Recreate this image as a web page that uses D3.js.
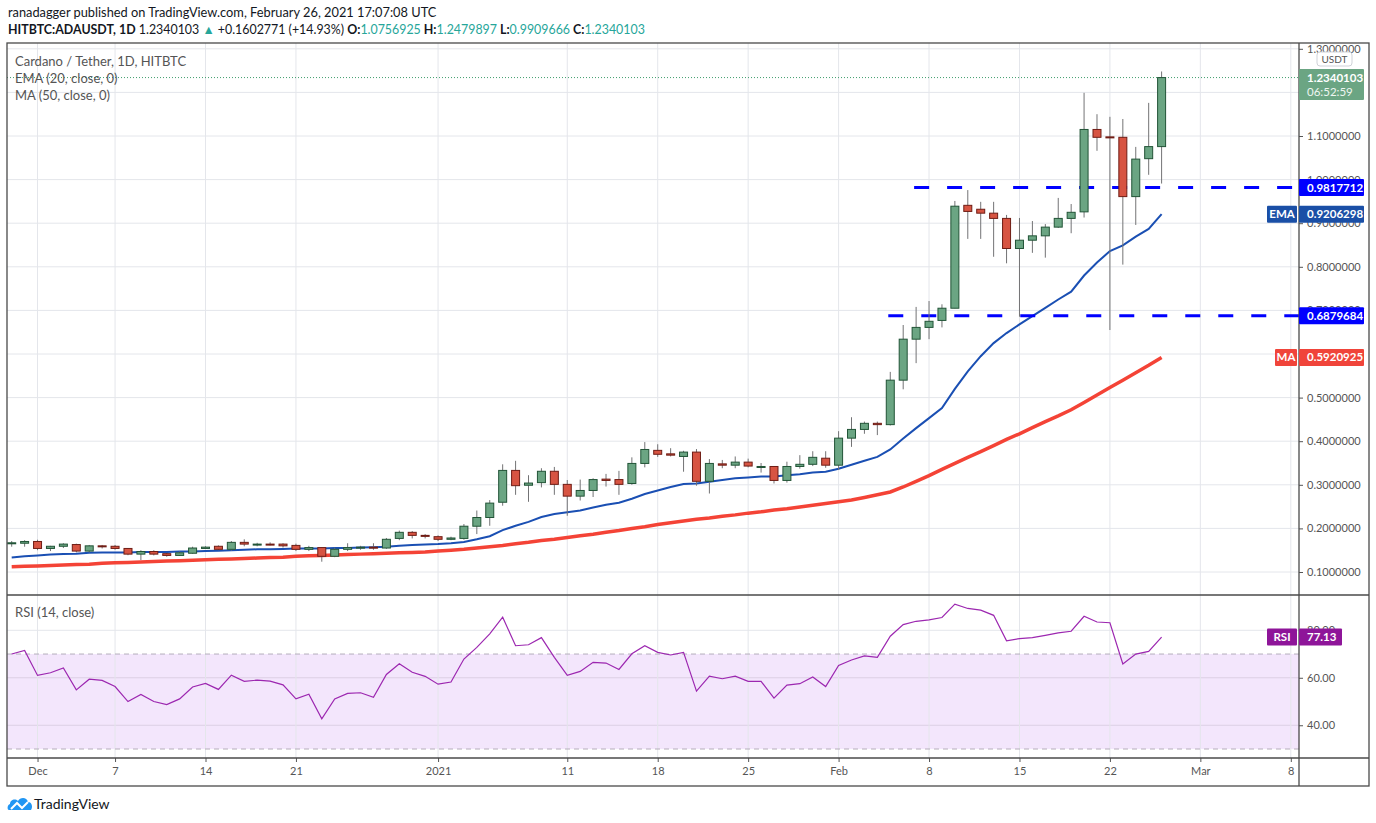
<!DOCTYPE html>
<html>
<head>
<meta charset="utf-8">
<script src="https://cdn.jsdelivr.net/npm/d3@7"></script>
<style>
body { margin: 0; background: #fff; }
svg text { font-family: Lato, "Open Sans", sans-serif; }
</style>
</head>
<body>
<svg id="chart" width="1376" height="823"></svg>
<script>
// daily candles, Nov 29 2020 .. Feb 26 2021
const firstDay = new Date(Date.UTC(2020, 10, 29));
const opens = [0.166,0.166,0.170,0.154,0.159,0.163,0.148,0.160,0.159,0.154,0.141,0.147,0.142,0.138,0.143,0.154,0.159,0.152,0.168,0.162,0.164,0.164,0.161,0.152,0.156,0.136,0.152,0.155,0.157,0.155,
  0.177,0.191,0.184,0.181,0.175,0.177,0.205,0.225,0.260,0.333,0.299,0.305,0.331,0.301,0.274,0.287,0.313,0.312,0.303,0.349,0.379,0.371,0.365,0.375,0.308,0.348,0.345,0.352,0.340,0.342,
  0.310,0.342,0.347,0.361,0.345,0.407,0.427,0.441,0.438,0.540,0.634,0.661,0.677,0.705,0.941,0.932,0.923,0.911,0.842,0.861,0.871,0.891,0.911,0.926,1.115,1.098,1.097,0.961,1.048,1.0756925];
const highs = [0.171,0.173,0.174,0.160,0.166,0.165,0.162,0.162,0.162,0.155,0.150,0.150,0.144,0.147,0.158,0.159,0.161,0.171,0.175,0.167,0.168,0.166,0.165,0.160,0.157,0.156,0.166,0.160,0.166,0.178,
  0.195,0.194,0.187,0.184,0.181,0.210,0.241,0.265,0.347,0.355,0.322,0.338,0.341,0.311,0.312,0.315,0.325,0.332,0.363,0.398,0.393,0.384,0.378,0.382,0.359,0.357,0.365,0.360,0.350,0.343,
  0.353,0.368,0.377,0.377,0.423,0.455,0.445,0.445,0.559,0.6665,0.708,0.7215,0.714,0.951,0.976,0.949,0.949,0.919,0.912,0.905,0.898,0.958,0.944,1.199,1.150,1.144,1.139,1.075,1.176,1.2479897];
const lows = [0.158,0.158,0.150,0.148,0.155,0.145,0.145,0.154,0.151,0.1385,0.1275,0.138,0.135,0.137,0.142,0.153,0.150,0.149,0.159,0.159,0.161,0.156,0.148,0.148,0.1236,0.134,0.148,0.151,0.151,0.153,
  0.173,0.177,0.177,0.171,0.173,0.174,0.187,0.206,0.252,0.277,0.261,0.294,0.277,0.229,0.264,0.272,0.296,0.277,0.300,0.340,0.364,0.365,0.330,0.298,0.280,0.338,0.338,0.340,0.328,0.303,
  0.305,0.337,0.343,0.339,0.334,0.387,0.417,0.414,0.436,0.519,0.579,0.634,0.661,0.705,0.864,0.864,0.823,0.808,0.6855,0.832,0.821,0.889,0.877,0.913,1.066,0.655,0.805,0.896,1.011,0.9909666];
const closes = [0.167,0.170,0.154,0.159,0.164,0.148,0.160,0.159,0.154,0.141,0.147,0.141,0.138,0.144,0.155,0.157,0.152,0.168,0.164,0.164,0.163,0.160,0.152,0.156,0.136,0.152,0.156,0.157,0.155,0.175,
  0.191,0.184,0.182,0.175,0.178,0.205,0.225,0.258,0.333,0.298,0.304,0.331,0.301,0.274,0.287,0.312,0.310,0.301,0.349,0.381,0.370,0.368,0.375,0.308,0.349,0.345,0.352,0.343,0.342,0.310,
  0.342,0.347,0.363,0.345,0.407,0.427,0.441,0.438,0.540,0.634,0.661,0.675,0.705,0.939,0.927,0.923,0.911,0.842,0.861,0.871,0.891,0.911,0.925,1.115,1.097,1.096,0.961,1.047,1.0756925,1.2340103];
const ema20 = [0.133,0.136,0.138,0.140,0.141,0.142,0.144,0.145,0.145,0.145,0.146,0.146,0.146,0.147,0.147,0.148,0.149,0.150,0.151,0.152,0.152,0.153,0.154,0.154,0.154,0.155,0.155,0.156,0.157,0.158,
  0.160,0.162,0.163,0.164,0.166,0.169,0.175,0.182,0.196,0.206,0.215,0.226,0.233,0.237,0.241,0.248,0.254,0.259,0.268,0.279,0.287,0.295,0.302,0.303,0.307,0.311,0.315,0.317,0.319,0.319,
  0.322,0.324,0.328,0.330,0.337,0.346,0.355,0.364,0.381,0.406,0.430,0.453,0.476,0.520,0.560,0.595,0.625,0.648,0.668,0.687,0.706,0.725,0.743,0.780,0.810,0.836,0.849,0.869,0.887,0.9206298];
const ma50 = [0.112,0.113,0.114,0.115,0.116,0.117,0.118,0.120,0.121,0.122,0.123,0.124,0.125,0.126,0.127,0.128,0.129,0.130,0.131,0.132,0.133,0.134,0.136,0.137,0.138,0.139,0.140,0.141,0.142,0.143,
  0.144,0.145,0.146,0.148,0.150,0.152,0.155,0.158,0.161,0.165,0.168,0.172,0.175,0.179,0.183,0.1865,0.191,0.195,0.200,0.204,0.209,0.213,0.217,0.221,0.224,0.228,0.231,0.235,0.238,0.242,
  0.245,0.249,0.253,0.257,0.261,0.265,0.271,0.277,0.2835,0.295,0.308,0.321,0.3355,0.349,0.363,0.376,0.390,0.404,0.417,0.431,0.445,0.458,0.472,0.489,0.506,0.523,0.540,0.557,0.574,0.5920925];
const rsi14 = [70.0,71.5,61.0,62.1,64.1,54.9,59.4,58.9,56.3,50.0,53.0,50.0,48.7,51.1,56.1,57.6,55.1,61.1,58.5,59.0,58.6,57.0,51.1,53.1,42.7,51.1,53.4,53.7,51.8,61.4,
  65.9,62.3,60.6,57.3,58.2,67.9,72.8,78.5,85.5,73.5,73.9,76.9,68.6,61.0,62.7,66.5,66.2,63.5,70.1,73.5,70.7,69.6,70.7,54.4,60.7,59.6,60.7,58.5,58.5,51.4,
  56.9,57.5,60.3,56.3,65.2,67.5,69.2,68.6,77.5,82.4,83.8,84.4,85.4,91.0,89.2,88.5,86.3,75.6,76.5,76.9,77.9,78.9,79.6,85.9,83.5,83.2,65.8,70.0,71.1,77.13];

const priceTicks = [0.1,0.2,0.3,0.4,0.5,0.6,0.7,0.8,0.9,1.0,1.1,1.2,1.3];
const rsiTicks = [40, 60, 80];
const timeTicks = ["2020-12-01","2020-12-07","2020-12-14","2020-12-21","2021-01-01","2021-01-11","2021-01-18","2021-01-25","2021-02-01","2021-02-08","2021-02-15","2021-02-22","2021-03-01","2021-03-08"];
const timeLabels = ["Dec","7","14","21","2021","11","18","25","Feb","8","15","22","Mar","8"];
const supportLevels = [0.9817712, 0.6879684];
const levelStarts = ["2021-02-07", "2021-02-05"];

const candles = closes.map((c, i) => ({
  date: d3.utcDay.offset(firstDay, i), o: opens[i], h: highs[i], l: lows[i], c: c,
  ema: ema20[i], ma: ma50[i], rsi: rsi14[i]
}));
const tickDates = timeTicks.map(s => new Date(s + "T00:00:00Z"));

const paneL = 7, paneR = 1299, axisR = 1369, paneTop = 43, mainBot = 595, rsiBot = 758, timeBot = 786;

const svg = d3.select("#chart");

const x = d3.scaleUtc()
  .domain([firstDay, new Date(Date.UTC(2021, 2, 8))])
  .range([11.7, 1290.8]);
const y = d3.scaleLinear().domain([0.1, 1.3]).range([572, 48.8]);
const yR = d3.scaleLinear().domain([30, 80]).range([749, 630.3]);

const defs = svg.append("defs");
defs.append("clipPath").attr("id", "clipMain").append("rect")
  .attr("x", paneL).attr("y", paneTop).attr("width", paneR - paneL).attr("height", mainBot - paneTop);
defs.append("clipPath").attr("id", "clipRsi").append("rect")
  .attr("x", paneL).attr("y", mainBot).attr("width", paneR - paneL).attr("height", rsiBot - mainBot);

// header
svg.append("text").attr("x", 8).attr("y", 17).attr("font-size", 12.8).attr("fill", "#131722")
  .text("ranadagger published on TradingView.com, February 26, 2021 17:07:08 UTC");
const hdr = svg.append("text").attr("x", 8).attr("y", 34).attr("font-size", 12.4).attr("fill", "#131722");
hdr.append("tspan").attr("font-weight", "bold").text("HITBTC:ADAUSDT, 1D");
hdr.append("tspan").text(" 1.2340103 ");
hdr.append("tspan").attr("fill", "#26a69a").text("▲");
hdr.append("tspan").text(" +0.1602771 (+14.93%) ");
[["O:", "1.0756925"], ["H:", "1.2479897"], ["L:", "0.9909666"], ["C:", "1.2340103"]].forEach(([k, v], i) => {
  hdr.append("tspan").attr("font-weight", "bold").text((i ? " " : "") + k);
  hdr.append("tspan").attr("fill", "#26a69a").text(v);
});

// rsi band
svg.append("rect").attr("x", paneL).attr("width", paneR - paneL)
  .attr("y", yR(70)).attr("height", yR(30) - yR(70)).attr("fill", "#f3e6fc");

// grid
svg.append("g").selectAll("line").data(priceTicks).join("line")
  .attr("x1", paneL).attr("x2", paneR).attr("y1", d => y(d)).attr("y2", d => y(d))
  .attr("stroke", "#e4e6eb");
svg.append("g").selectAll("line").data(rsiTicks).join("line")
  .attr("x1", paneL).attr("x2", paneR).attr("y1", d => yR(d)).attr("y2", d => yR(d))
  .attr("stroke", d => d === 80 ? "#e4e6eb" : "#dcd0e4");
svg.append("g").selectAll("line").data(tickDates).join("line")
  .attr("x1", d => x(d)).attr("x2", d => x(d)).attr("y1", paneTop).attr("y2", rsiBot)
  .attr("stroke", "#e4e6eb");
svg.append("g").selectAll("line").data([70, 30]).join("line")
  .attr("x1", paneL).attr("x2", paneR).attr("y1", d => yR(d)).attr("y2", d => yR(d))
  .attr("stroke", "#b5aebb").attr("stroke-dasharray", "5,4");

// main pane
const main = svg.append("g").attr("clip-path", "url(#clipMain)");

main.append("line").attr("x1", paneL).attr("x2", paneR)
  .attr("y1", y(closes[closes.length - 1])).attr("y2", y(closes[closes.length - 1]))
  .attr("stroke", "#3f9d6c").attr("stroke-dasharray", "1,2");

main.append("path").datum(candles)
  .attr("fill", "none").attr("stroke", "#f44336").attr("stroke-width", 3.5)
  .attr("d", d3.line().x(d => x(d.date)).y(d => y(d.ma)));
main.append("path").datum(candles)
  .attr("fill", "none").attr("stroke", "#1a4fb3").attr("stroke-width", 2)
  .attr("d", d3.line().x(d => x(d.date)).y(d => y(d.ema)));

// horizontal levels drawn by the analyst
main.selectAll(".lvl").data(supportLevels).join("line")
  .attr("x1", (d, i) => x(new Date(levelStarts[i] + "T00:00:00Z")) - 2)
  .attr("x2", paneR)
  .attr("y1", d => y(d)).attr("y2", d => y(d))
  .attr("stroke", "#0000ff").attr("stroke-width", 3).attr("stroke-dasharray", "15,18");

const cg = main.append("g").selectAll("g").data(candles).join("g");
cg.append("line")
  .attr("x1", d => x(d.date)).attr("x2", d => x(d.date))
  .attr("y1", d => y(d.h)).attr("y2", d => y(d.l))
  .attr("stroke", "#737375");
cg.append("rect")
  .attr("x", d => x(d.date) - 4).attr("width", 8)
  .attr("y", d => y(Math.max(d.o, d.c)))
  .attr("height", d => Math.max(1, Math.abs(y(d.o) - y(d.c))))
  .attr("fill", d => d.c >= d.o ? "#6ba583" : "#d75442")
  .attr("stroke", d => d.c >= d.o ? "#225437" : "#6f1d15");

// rsi pane
svg.append("g").attr("clip-path", "url(#clipRsi)").append("path").datum(candles)
  .attr("fill", "none").attr("stroke", "#9c27b0").attr("stroke-width", 1.2)
  .attr("d", d3.line().x(d => x(d.date)).y(d => yR(d.rsi)));

// legends
const leg = svg.append("g").attr("font-size", 13).attr("fill", "#555");
leg.append("text").attr("x", 15).attr("y", 66).text("Cardano / Tether, 1D, HITBTC");
leg.append("text").attr("x", 15).attr("y", 83).text("EMA (20, close, 0)");
leg.append("text").attr("x", 15).attr("y", 100).text("MA (50, close, 0)");
leg.append("text").attr("x", 15).attr("y", 617).text("RSI (14, close)");

// axes
const yAxis = svg.append("g").attr("transform", `translate(${paneR},0)`)
  .call(d3.axisRight(y).tickValues(priceTicks).tickFormat(d3.format(".7f")).tickSize(4).tickPadding(4));
const rAxis = svg.append("g").attr("transform", `translate(${paneR},0)`)
  .call(d3.axisRight(yR).tickValues(rsiTicks).tickFormat(d3.format(".2f")).tickSize(4).tickPadding(4));
const xAxis = svg.append("g").attr("transform", `translate(0,${rsiBot})`)
  .call(d3.axisBottom(x).tickValues(tickDates).tickFormat((d, i) => timeLabels[i]).tickSize(4).tickPadding(5));
[yAxis, rAxis, xAxis].forEach(a => {
  a.select(".domain").remove();
  a.selectAll("line").attr("stroke", "#555");
  a.selectAll("text").attr("fill", "#555").attr("font-size", 11).attr("font-family", "Lato, sans-serif");
});
// these two tick labels sit completely under the price / MA labels
yAxis.selectAll(".tick").filter(d => d === 1.2 || d === 0.6).select("text").remove();

// frame
const frame = svg.append("g").attr("stroke", "#4a4a4a").attr("stroke-width", 1.3).attr("fill", "none");
frame.append("rect").attr("x", paneL).attr("y", paneTop).attr("width", axisR - paneL).attr("height", timeBot - paneTop);
frame.append("line").attr("x1", paneR).attr("x2", paneR).attr("y1", paneTop).attr("y2", timeBot);
frame.append("line").attr("x1", paneL).attr("x2", axisR).attr("y1", mainBot).attr("y2", mainBot);
frame.append("line").attr("x1", paneL).attr("x2", axisR).attr("y1", rsiBot).attr("y2", rsiBot);

// axis labels
svg.append("rect").attr("x", 1317).attr("y", 52).attr("width", 35).attr("height", 14).attr("rx", 3)
  .attr("fill", "#fff").attr("stroke", "#cfd2d8");
svg.append("text").attr("x", 1334.5).attr("y", 63).attr("text-anchor", "middle")
  .attr("font-size", 10).attr("fill", "#555").text("USDT");

function valueLabel(cy, text, fill, w, tag) {
  const g = svg.append("g");
  g.append("rect").attr("x", paneR).attr("y", cy - 8.5).attr("width", w).attr("height", 17).attr("rx", 1).attr("fill", fill);
  g.append("text").attr("x", paneR + 8).attr("y", cy + 4).attr("font-size", 11.5).attr("font-weight", "bold")
    .attr("fill", "#fff").text(text);
  if (tag) {
    const tw = tag.length * 8 + 6;
    g.append("rect").attr("x", paneR - 2 - tw).attr("y", cy - 8.5).attr("width", tw).attr("height", 17).attr("rx", 1).attr("fill", fill);
    g.append("text").attr("x", paneR - 2 - tw / 2).attr("y", cy + 4).attr("text-anchor", "middle")
      .attr("font-size", 11.5).attr("font-weight", "bold").attr("fill", "#fff").text(tag);
  }
}

const last = candles[candles.length - 1];
const gl = svg.append("g");
gl.append("rect").attr("x", paneR).attr("y", y(last.c) - 8.5).attr("width", 65).attr("height", 31).attr("rx", 1).attr("fill", "#6ba583");
gl.append("text").attr("x", paneR + 8).attr("y", y(last.c) + 4).attr("font-size", 11.5).attr("font-weight", "bold").attr("fill", "#fff").text(d3.format(".7f")(last.c));
gl.append("text").attr("x", paneR + 8).attr("y", y(last.c) + 18).attr("font-size", 11.5).attr("fill", "#eef6f1").text("06:52:59");

valueLabel(y(supportLevels[0]), d3.format(".7f")(supportLevels[0]), "#0000ff", 65);
valueLabel(y(last.ema), d3.format(".7f")(last.ema), "#1a4fa6", 65, "EMA");
valueLabel(y(supportLevels[1]), d3.format(".7f")(supportLevels[1]), "#0000ff", 65);
valueLabel(y(last.ma), d3.format(".7f")(last.ma), "#f0443a", 65, "MA");
valueLabel(yR(last.rsi), d3.format(".2f")(last.rsi), "#8e1599", 43, "RSI");

// footer logo
const logo = svg.append("g").attr("transform", "translate(7,796)");
logo.append("path")
  .attr("d", "M2,14 C0,14 0,9 3,8 C3,4 8,2 11,5 C13,1 20,1 21,6 C25,6 26,11 24,14 Z")
  .attr("fill", "#2196f3");
logo.append("polyline").attr("points", "4,13 10,7 15,12 21,6")
  .attr("fill", "none").attr("stroke", "#fff").attr("stroke-width", 2);
svg.append("text").attr("x", 34).attr("y", 809).attr("font-size", 14).attr("fill", "#131722").text("TradingView");
</script>
</body>
</html>
